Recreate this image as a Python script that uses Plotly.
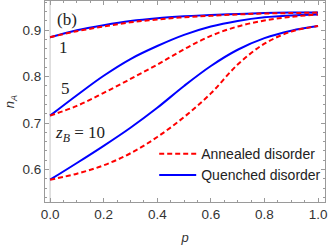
import plotly.graph_objects as go

p = [0.0, 0.1, 0.2, 0.3, 0.4, 0.5, 0.6, 0.7, 0.8, 0.9, 1.0]

quenched_1 = [0.885, 0.900, 0.911, 0.920, 0.926, 0.930, 0.933, 0.935, 0.937, 0.938, 0.938]
annealed_1 = [0.885, 0.898, 0.908, 0.917, 0.923, 0.928, 0.931, 0.934, 0.936, 0.937, 0.938]
quenched_5 = [0.716, 0.760, 0.802, 0.838, 0.866, 0.890, 0.908, 0.920, 0.928, 0.932, 0.934]
annealed_5 = [0.716, 0.737, 0.765, 0.795, 0.826, 0.859, 0.888, 0.908, 0.921, 0.929, 0.934]
quenched_10 = [0.578, 0.614, 0.651, 0.690, 0.733, 0.780, 0.823, 0.858, 0.883, 0.899, 0.909]
annealed_10 = [0.578, 0.591, 0.609, 0.635, 0.670, 0.713, 0.764, 0.826, 0.871, 0.897, 0.909]

x_ticks = [0.0, 0.2, 0.4, 0.6, 0.8, 1.0]
x_tick_labels = ["0.0", "0.2", "0.4", "0.6", "0.8", "1.0"]
y_ticks = [0.6, 0.7, 0.8, 0.9]
y_tick_labels = ["0.6", "0.7", "0.8", "0.9"]

BLUE = "#0000ff"
RED = "#ff0000"

fig = go.Figure()

# light axis line at p = 0
fig.add_shape(type="line", xref="x", yref="paper", x0=0, x1=0, y0=0, y1=1,
              line=dict(color="#d8d8d8", width=1.5), layer="below")

for i, (q, a) in enumerate([(quenched_10, annealed_10), (quenched_5, annealed_5), (quenched_1, annealed_1)]):
    fig.add_trace(go.Scatter(x=p, y=q, mode="lines", line=dict(color=BLUE, width=2, shape="spline"),
                             name="Quenched disorder", legendgroup="q", legendrank=2,
                             showlegend=(i == 0)))
    fig.add_trace(go.Scatter(x=p, y=a, mode="lines",
                             line=dict(color=RED, width=2, dash="5px,3px", shape="spline"),
                             name="Annealed disorder", legendgroup="a", legendrank=1,
                             showlegend=(i == 0)))

serif = "Liberation Serif, Times New Roman, serif"
sans = "Liberation Sans, Arial, sans-serif"
fig.add_annotation(x=0.079, y=0.91, xref="paper", yref="paper", text="(b)", showarrow=False,
                   xanchor="center", yanchor="middle", font=dict(family=serif, size=17, color="#222"))
fig.add_annotation(x=0.05, y=0.863, text="1", showarrow=False,
                   xanchor="center", yanchor="middle", font=dict(family=serif, size=17, color="#222"))
fig.add_annotation(x=0.056, y=0.775, text="5", showarrow=False,
                   xanchor="center", yanchor="middle", font=dict(family=serif, size=17, color="#222"))
fig.add_annotation(x=0.112, y=0.676, text="<i>z</i><sub><i>B</i></sub> = 10", showarrow=False,
                   xanchor="center", yanchor="middle", font=dict(family=serif, size=17, color="#222"))

axis_common = dict(
    showline=True, linecolor="#9a9a9a", linewidth=1, mirror="allticks",
    ticks="inside", ticklen=4, tickcolor="#9a9a9a", showgrid=False, zeroline=False,
    automargin=False,
    tickfont=dict(family=sans, size=13.5, color="#333"),
)

fig.update_xaxes(range=[-0.019, 1.026], tickvals=x_ticks, ticktext=x_tick_labels,
                 minor=dict(ticks="inside", dtick=0.05, tick0=0, ticklen=2, tickcolor="#9a9a9a"),
                 title=dict(text="<i>p</i>", font=dict(family=sans, size=13, color="#333"), standoff=11),
                 **axis_common)
fig.update_yaxes(range=[0.530, 0.963], tickvals=y_ticks, ticktext=y_tick_labels,
                 minor=dict(ticks="inside", dtick=0.02, tick0=0.5, ticklen=2, tickcolor="#9a9a9a"),
                 title=dict(text="<i>n</i><sub><i>A</i></sub>", font=dict(family=sans, size=13, color="#333"), standoff=4),
                 **axis_common)

fig.update_layout(
    width=332, height=249,
    margin=dict(l=45, r=7, t=1, b=47),
    plot_bgcolor="white", paper_bgcolor="white",
    showlegend=True,
    legend=dict(x=0.39, y=0.318, xanchor="left", yanchor="top", bgcolor="rgba(0,0,0,0)",
                font=dict(family=sans, size=14, color="#222"),
                tracegroupgap=18, itemwidth=37, traceorder="normal"),
)

fig.write_html("out.html", config={"displayModeBar": False},
               post_script="document.body.style.margin='0';document.body.style.padding='0';document.body.style.overflow='hidden';")
